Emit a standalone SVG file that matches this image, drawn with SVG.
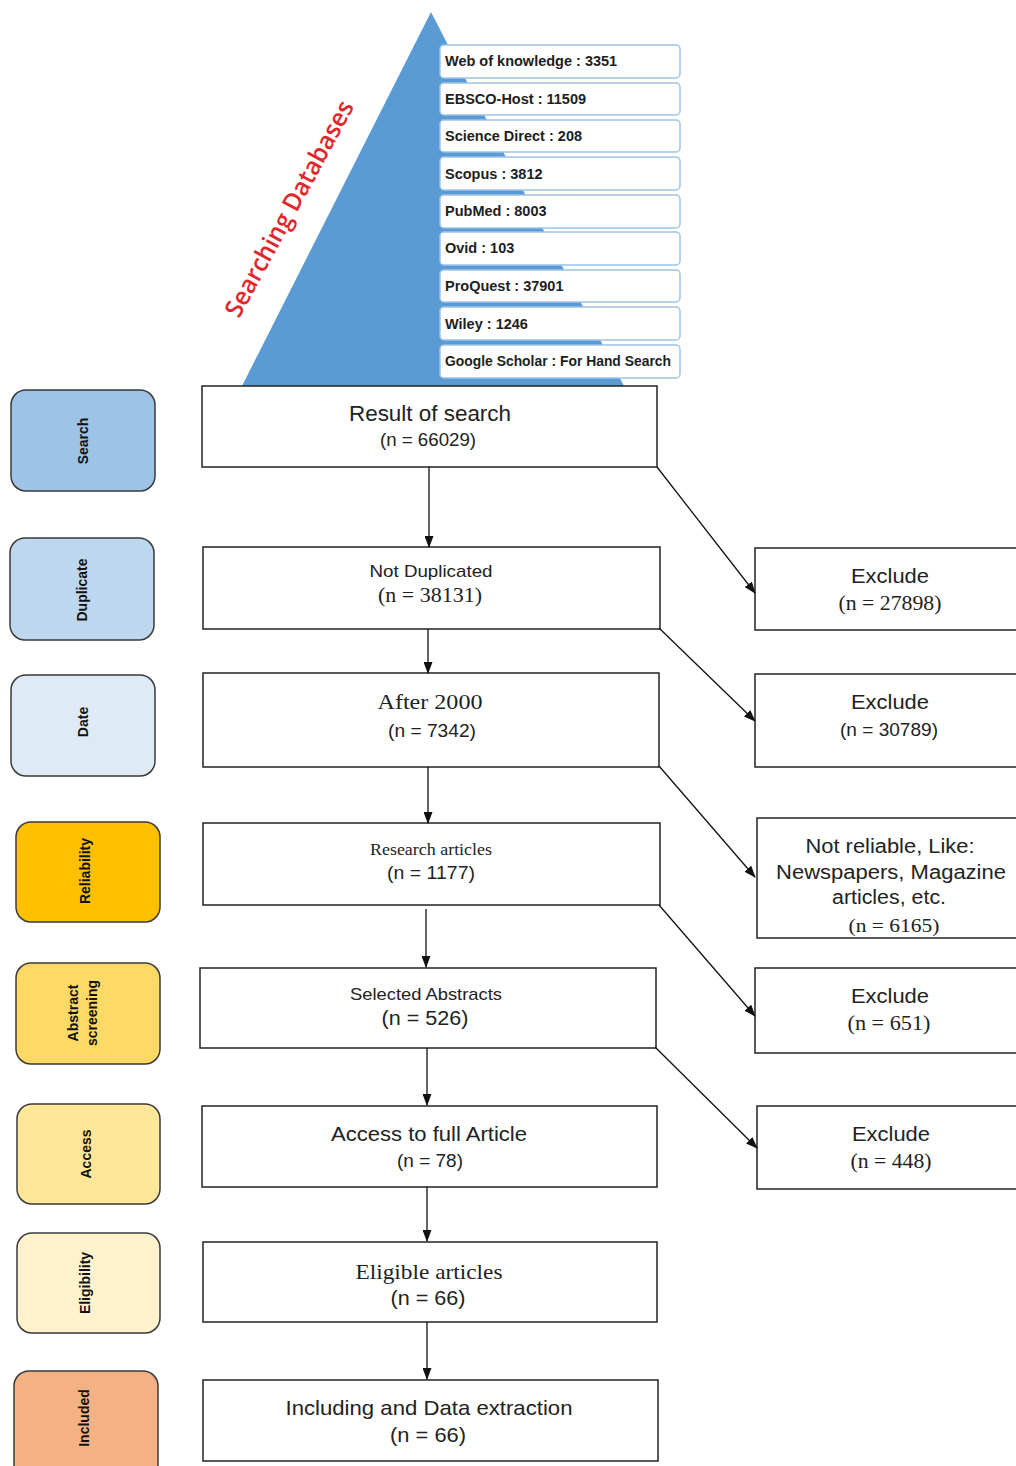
<svg xmlns="http://www.w3.org/2000/svg" width="1016" height="1466" viewBox="0 0 1016 1466">
<style>
.stage{stroke:#3a3a3a;stroke-width:1.5}
.stxt{font-family:"Liberation Sans",Arial,sans-serif;font-weight:bold;font-size:14px;fill:#111;text-anchor:middle}
.db{fill:#fff;stroke:#9dc3e6;stroke-width:1.5}
.dbt{font-family:"Liberation Sans",Arial,sans-serif;font-weight:bold;font-size:14.5px;fill:#1e1e1e}
.box{fill:#fff;stroke:#222;stroke-width:1.5}
.s{font-family:"Liberation Sans",Arial,sans-serif;fill:#222;text-anchor:middle}
.r{font-family:"Liberation Serif","Times New Roman",serif;fill:#222;text-anchor:middle}
.conn line{stroke:#111;stroke-width:1.3}
</style>
<defs>
<marker id="ah" markerUnits="userSpaceOnUse" markerWidth="12" markerHeight="9" refX="11" refY="4.5" orient="auto">
<path d="M0,0 L12,4.5 L0,9 z" fill="#111"/>
</marker>
</defs>
<rect width="1016" height="1466" fill="#fff"/>

<g id="pyramid">
<polygon points="431,12 242,386 624,386" fill="#5b9bd5"/>
<text transform="translate(288,208) rotate(-61.5)" font-family="'Open Sans','Liberation Sans',sans-serif" font-weight="600" font-size="25" fill="#e3262b" text-anchor="middle" dominant-baseline="central" textLength="242" lengthAdjust="spacingAndGlyphs">Searching Databases</text>
</g>

<g id="databases">
<rect class="db" x="440" y="45" width="240" height="33" rx="4"/>
<text class="dbt" x="445" y="66">Web of knowledge : 3351</text>
<rect class="db" x="440" y="83" width="240" height="32" rx="4"/>
<text class="dbt" x="445" y="104">EBSCO-Host : 11509</text>
<rect class="db" x="440" y="120" width="240" height="32" rx="4"/>
<text class="dbt" x="445" y="141">Science Direct : 208</text>
<rect class="db" x="440" y="157" width="240" height="33" rx="4"/>
<text class="dbt" x="445" y="179">Scopus : 3812</text>
<rect class="db" x="440" y="195" width="240" height="33" rx="4"/>
<text class="dbt" x="445" y="216">PubMed : 8003</text>
<rect class="db" x="440" y="232" width="240" height="33" rx="4"/>
<text class="dbt" x="445" y="253">Ovid : 103</text>
<rect class="db" x="440" y="270" width="240" height="32" rx="4"/>
<text class="dbt" x="445" y="291">ProQuest : 37901</text>
<rect class="db" x="440" y="307" width="240" height="33" rx="4"/>
<text class="dbt" x="445" y="329">Wiley : 1246</text>
<rect class="db" x="440" y="345" width="240" height="33" rx="4"/>
<text class="dbt" x="445" y="366" textLength="226" lengthAdjust="spacingAndGlyphs">Google Scholar : For Hand Search</text>
</g>

<g id="stages">
<g id="stage-search"><rect class="stage" x="11" y="390" width="144" height="101" rx="15" fill="#9dc3e6"/><text class="stxt" transform="translate(88,441) rotate(-90)">Search</text></g>
<g id="stage-duplicate"><rect class="stage" x="10" y="538" width="144" height="102" rx="15" fill="#bdd7ee"/><text class="stxt" transform="translate(87,590) rotate(-90)">Duplicate</text></g>
<g id="stage-date"><rect class="stage" x="11" y="675" width="144" height="101" rx="15" fill="#deebf7"/><text class="stxt" transform="translate(88,722) rotate(-90)">Date</text></g>
<g id="stage-reliability"><rect class="stage" x="16" y="822" width="144" height="100" rx="15" fill="#ffc000"/><text class="stxt" transform="translate(90,871) rotate(-90)">Reliability</text></g>
<g id="stage-abstract"><rect class="stage" x="16" y="963" width="144" height="101" rx="15" fill="#ffd966"/><text class="stxt" transform="translate(78,1013) rotate(-90)">Abstract</text><text class="stxt" transform="translate(97,1013) rotate(-90)">screening</text></g>
<g id="stage-access"><rect class="stage" x="17" y="1104" width="143" height="100" rx="15" fill="#ffe699"/><text class="stxt" transform="translate(91,1154) rotate(-90)">Access</text></g>
<g id="stage-eligibility"><rect class="stage" x="17" y="1233" width="143" height="100" rx="15" fill="#fff2cc"/><text class="stxt" transform="translate(90,1283) rotate(-90)">Eligibility</text></g>
<g id="stage-included"><rect class="stage" x="14" y="1371" width="144" height="110" rx="15" fill="#f4b183"/><text class="stxt" transform="translate(89,1418) rotate(-90)">Included</text></g>
</g>

<g id="main">
<g id="n-result"><rect class="box" x="202" y="386" width="455" height="81"/>
<text class="s" x="430" y="421" font-size="22" textLength="162" lengthAdjust="spacingAndGlyphs">Result of search</text>
<text class="s" x="428" y="446" font-size="18" textLength="96" lengthAdjust="spacingAndGlyphs">(n = 66029)</text></g>
<g id="n-notdup"><rect class="box" x="203" y="547" width="457" height="82"/>
<text class="s" x="431" y="577" font-size="17" textLength="123" lengthAdjust="spacingAndGlyphs">Not Duplicated</text>
<text class="r" x="430" y="602" font-size="20" textLength="104" lengthAdjust="spacingAndGlyphs">(n = 38131)</text></g>
<g id="n-after"><rect class="box" x="203" y="673" width="456" height="94"/>
<text class="r" x="430" y="709" font-size="22" textLength="105" lengthAdjust="spacingAndGlyphs">After  2000</text>
<text class="s" x="432" y="737" font-size="19" textLength="88" lengthAdjust="spacingAndGlyphs">(n = 7342)</text></g>
<g id="n-research"><rect class="box" x="203" y="823" width="457" height="82"/>
<text class="r" x="431" y="855" font-size="17" textLength="122" lengthAdjust="spacingAndGlyphs">Research articles</text>
<text class="s" x="431" y="879" font-size="19" textLength="88" lengthAdjust="spacingAndGlyphs">(n = 1177)</text></g>
<g id="n-selected"><rect class="box" x="200" y="968" width="456" height="80"/>
<text class="s" x="426" y="1000" font-size="17" textLength="152" lengthAdjust="spacingAndGlyphs">Selected Abstracts</text>
<text class="s" x="425" y="1025" font-size="20" textLength="87" lengthAdjust="spacingAndGlyphs">(n = 526)</text></g>
<g id="n-access"><rect class="box" x="202" y="1106" width="455" height="81"/>
<text class="s" x="429" y="1141" font-size="21" textLength="196" lengthAdjust="spacingAndGlyphs">Access to full Article</text>
<text class="s" x="430" y="1167" font-size="19" textLength="66" lengthAdjust="spacingAndGlyphs">(n = 78)</text></g>
<g id="n-eligible"><rect class="box" x="203" y="1242" width="454" height="80"/>
<text class="r" x="429" y="1279" font-size="21" textLength="147" lengthAdjust="spacingAndGlyphs">Eligible  articles</text>
<text class="s" x="428" y="1305" font-size="20" textLength="75" lengthAdjust="spacingAndGlyphs">(n = 66)</text></g>
<g id="n-including"><rect class="box" x="203" y="1380" width="455" height="81"/>
<text class="s" x="429" y="1415" font-size="21" textLength="287" lengthAdjust="spacingAndGlyphs">Including  and Data extraction</text>
<text class="s" x="428" y="1442" font-size="20" textLength="76" lengthAdjust="spacingAndGlyphs">(n = 66)</text></g>
</g>

<g id="excluded">
<g id="x1"><rect class="box" x="755" y="548" width="270" height="82"/>
<text class="s" x="890" y="583" font-size="21" textLength="78" lengthAdjust="spacingAndGlyphs">Exclude</text>
<text class="r" x="890" y="610" font-size="20" textLength="103" lengthAdjust="spacingAndGlyphs">(n = 27898)</text></g>
<g id="x2"><rect class="box" x="755" y="674" width="270" height="93"/>
<text class="s" x="890" y="709" font-size="21" textLength="78" lengthAdjust="spacingAndGlyphs">Exclude</text>
<text class="s" x="889" y="736" font-size="19" textLength="98" lengthAdjust="spacingAndGlyphs">(n = 30789)</text></g>
<g id="x3"><rect class="box" x="757" y="818" width="270" height="120"/>
<text class="s" x="890" y="853" font-size="20" textLength="169" lengthAdjust="spacingAndGlyphs">Not reliable, Like:</text>
<text class="s" x="891" y="879" font-size="20" textLength="230" lengthAdjust="spacingAndGlyphs">Newspapers, Magazine</text>
<text class="s" x="889" y="904" font-size="20" textLength="114" lengthAdjust="spacingAndGlyphs">articles, etc.</text>
<text class="r" x="894" y="932" font-size="19" textLength="91" lengthAdjust="spacingAndGlyphs">(n = 6165)</text></g>
<g id="x4"><rect class="box" x="755" y="968" width="270" height="85"/>
<text class="s" x="890" y="1003" font-size="21" textLength="78" lengthAdjust="spacingAndGlyphs">Exclude</text>
<text class="r" x="889" y="1030" font-size="20" textLength="83" lengthAdjust="spacingAndGlyphs">(n = 651)</text></g>
<g id="x5"><rect class="box" x="757" y="1106" width="270" height="83"/>
<text class="s" x="891" y="1141" font-size="21" textLength="78" lengthAdjust="spacingAndGlyphs">Exclude</text>
<text class="r" x="891" y="1168" font-size="20" textLength="81" lengthAdjust="spacingAndGlyphs">(n = 448)</text></g>
</g>

<g id="connectors" class="conn">
<line x1="429" y1="467" x2="429" y2="547" marker-end="url(#ah)"/>
<line x1="428" y1="629" x2="428" y2="673" marker-end="url(#ah)"/>
<line x1="428" y1="767" x2="428" y2="823" marker-end="url(#ah)"/>
<line x1="426" y1="909" x2="426" y2="967" marker-end="url(#ah)"/>
<line x1="427" y1="1048" x2="427" y2="1105" marker-end="url(#ah)"/>
<line x1="427" y1="1187" x2="427" y2="1241" marker-end="url(#ah)"/>
<line x1="427" y1="1322" x2="427" y2="1379" marker-end="url(#ah)"/>
<line x1="657" y1="467" x2="755" y2="593" marker-end="url(#ah)"/>
<line x1="659" y1="628" x2="755" y2="721" marker-end="url(#ah)"/>
<line x1="659" y1="766" x2="755" y2="877" marker-end="url(#ah)"/>
<line x1="659" y1="905" x2="755" y2="1016" marker-end="url(#ah)"/>
<line x1="655" y1="1047" x2="757" y2="1148" marker-end="url(#ah)"/>
</g>
</svg>
